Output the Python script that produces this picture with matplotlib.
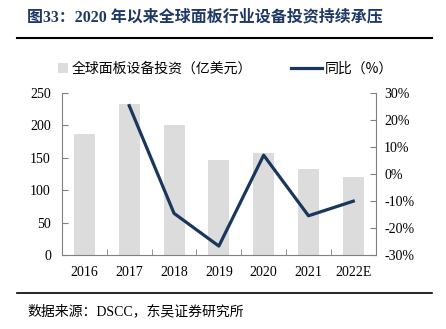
import numpy as np
import matplotlib
matplotlib.use('Agg')
from matplotlib import pyplot as plt
from matplotlib.patches import Patch
from matplotlib.lines import Line2D

FONTS = ['Liberation Serif', 'Noto Sans CJK SC']
plt.rcParams['font.family'] = FONTS

years = ['2016', '2017', '2018', '2019', '2020', '2021', '2022E']
invest = [187, 233, 201, 147, 157, 133, 120]          # 亿美元
yoy_years = ['2017', '2018', '2019', '2020', '2021', '2022E']
yoy = [25.2, -14.6, -26.7, 6.9, -15.5, -10.1]         # %

BAR_C = '#dcdcdc'
LINE_C = '#1b365d'
TITLE_C = '#1f3864'
AX_C = '#808080'

fig = plt.figure(figsize=(4.46, 3.29), dpi=100)
W, H = 446, 329

ax = fig.add_axes([62 / W, 1 - 255 / H, (375.7 - 62) / W, (255 - 92.7) / H])
x = np.arange(len(years))
ax.bar(x, invest, width=0.47, color=BAR_C, zorder=1)
ax.set_xlim(-0.5, len(years) - 0.5)
ax.set_ylim(0, 250)
ax.set_yticks(np.arange(0, 251, 50))
ax.set_xticks(x)
ax.set_xticklabels(years)
ax.set_xticks(np.arange(0.5, len(years) - 0.5, 1), minor=True)
ax.tick_params(axis='x', which='major', length=0, pad=8, labelsize=10)
ax.tick_params(axis='x', which='minor', direction='in', length=4, color=AX_C)
ax.tick_params(axis='y', direction='in', length=4, color=AX_C, labelsize=10, pad=8)
for s in ['top', 'right']:
    ax.spines[s].set_visible(False)
for s in ['left', 'bottom']:
    ax.spines[s].set_color(AX_C)
    ax.spines[s].set_linewidth(0.8)

ax2 = ax.twinx()
xi = [years.index(y) for y in yoy_years]
ax2.plot(xi, yoy, color=LINE_C, linewidth=2.3, zorder=3, clip_on=False)
ax2.set_ylim(-30, 30)
ax2.set_yticks(np.arange(-30, 31, 10))
ax2.set_yticklabels(['%d%%' % v for v in np.arange(-30, 31, 10)])
ax2.tick_params(axis='y', direction='in', length=4, color=AX_C, labelsize=10, pad=6)
for s in ['top', 'left', 'bottom']:
    ax2.spines[s].set_visible(False)
ax2.spines['right'].set_color(AX_C)
ax2.spines['right'].set_linewidth(0.8)

leg_prop = {'family': ['Noto Sans CJK SC'], 'size': 10}
leg1 = fig.legend([Patch(facecolor=BAR_C, edgecolor='none')], ['全球面板设备投资（亿美元）'],
                  loc='center left', bbox_to_anchor=(58 / W, 1 - 69 / H), frameon=False,
                  handlelength=0.75, handleheight=0.75, handletextpad=0.2,
                  borderaxespad=0, borderpad=0, prop=leg_prop)
leg2 = fig.legend([Line2D([0], [0], color=LINE_C, linewidth=2.3)], ['同比（%）'],
                  loc='center left', bbox_to_anchor=(291 / W, 1 - 69 / H), frameon=False,
                  handlelength=2.2, handletextpad=0.2,
                  borderaxespad=0, borderpad=0, prop=leg_prop)

fig.text(27 / W, 1 - 17 / H, '图33：2020 年以来全球面板行业设备投资持续承压',
         fontsize=11.5, fontweight='bold', color=TITLE_C, va='center', ha='left',
         family=FONTS)
fig.add_artist(Line2D([17 / W, 432 / W], [1 - 38.3 / H] * 2, color='black', linewidth=1.5))
fig.add_artist(Line2D([17 / W, 432 / W], [1 - 292.7 / H] * 2, color='black', linewidth=1.2))
fig.text(27 / W, 1 - 311 / H, '数据来源：DSCC，东吴证券研究所', fontsize=10,
         va='center', ha='left', family=FONTS)

fig.savefig('out.png', dpi=100)
